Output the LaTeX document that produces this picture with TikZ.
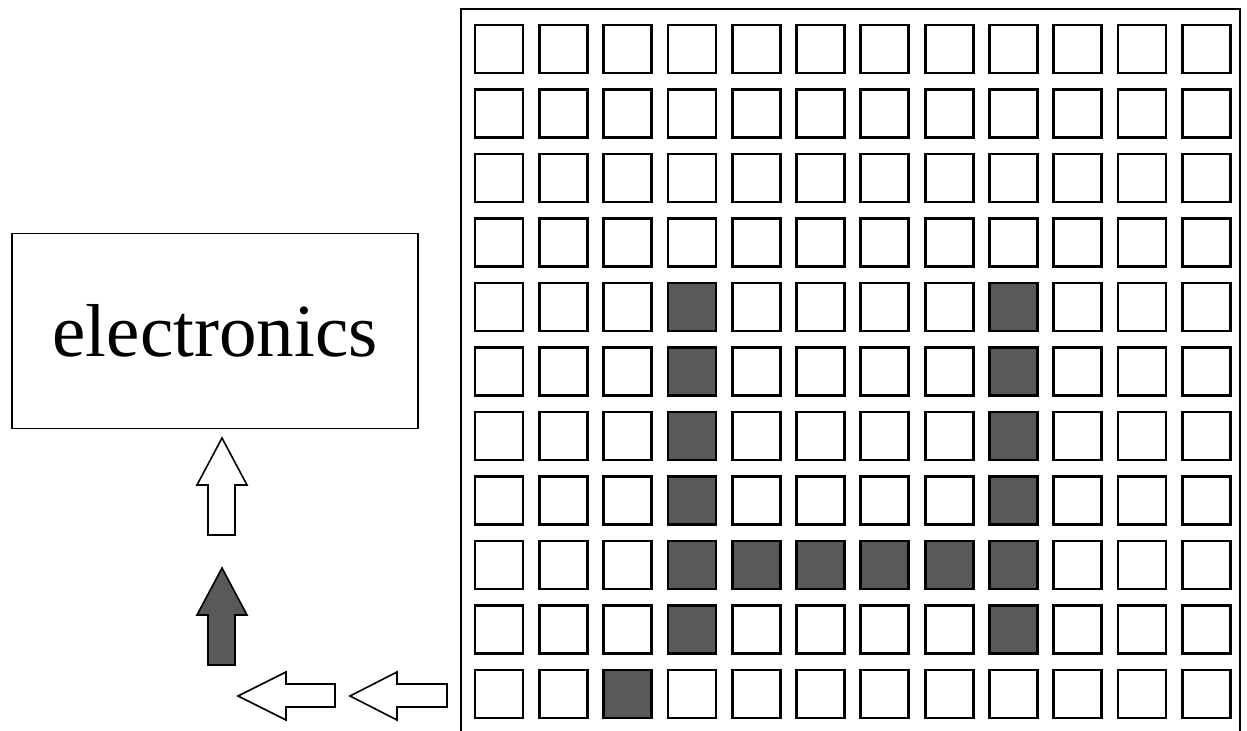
\documentclass[tikz,border=0pt]{standalone}
\usepackage{fontspec}
\setmainfont{Liberation Serif}
\usepackage{tikz}
\usetikzlibrary{calc}
\definecolor{hitgray}{gray}{0.35}

\begin{document}
\begin{tikzpicture}[x=0.5pt,y=-0.5pt]
\useasboundingbox (0,0) rectangle (1247,731);
% detector frame (cut at the bottom) and pixels
\draw[line width=1pt] (461,731) -- (461,9) -- (1240,9) -- (1240,731);
\foreach \r in {0,...,10} {
  \foreach \c in {0,...,11} {
    \draw[line width=1.4pt] ({475+\c*64.3},{25+\r*64.5}) rectangle ++(48,48);
  }
}
% pixels that were hit
\foreach \c/\r in {3/4,8/4,3/5,8/5,3/6,8/6,3/7,8/7,3/8,4/8,5/8,6/8,7/8,8/8,3/9,8/9,2/10} {
  \draw[line width=1.4pt, fill=hitgray] ({475+\c*64.3},{25+\r*64.5}) rectangle ++(48,48);
}
% readout
\node[draw, line width=0.9pt, minimum width=203pt, minimum height=97.5pt,
  font=\fontsize{37.5}{44}\selectfont] (elec) at (215,331) {electronics};
\draw[line width=0.8pt, fill=white] (222,438) -- (247,485) -- (235,485) -- (235,535)
  -- (208,535) -- (208,485) -- (197,485) -- cycle;
\draw[line width=0.8pt, fill=hitgray] (222,568) -- (247,615) -- (235,615) -- (235,665)
  -- (208,665) -- (208,615) -- (197,615) -- cycle;
\draw[line width=0.8pt, fill=white] (238,696) -- (286,672) -- (286,684) -- (335,684)
  -- (335,707) -- (286,707) -- (286,720) -- cycle;
\draw[line width=0.8pt, fill=white] (350,696) -- (397,672) -- (397,684) -- (447,684)
  -- (447,707) -- (397,707) -- (397,720) -- cycle;
\end{tikzpicture}
\end{document}
